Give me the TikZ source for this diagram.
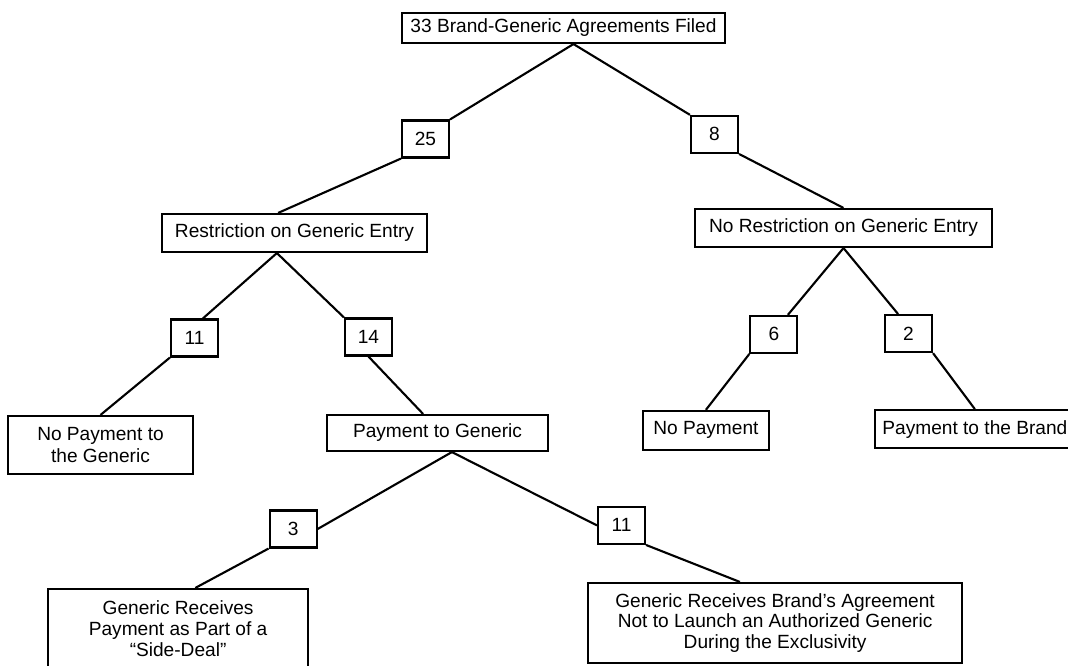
\documentclass[tikz,border=0pt]{standalone}
\usepackage{fontspec}
\setmainfont{Liberation Sans}
\usepackage{tikz}
\usetikzlibrary{positioning}

\begin{document}
\begin{tikzpicture}[-,node distance=2.5cm,line width=1.5pt,
			font=\fontsize{13.6}{15}\selectfont]
			\tikzstyle{box}=[draw=black,fill=white,text=black,align=center,inner sep=2pt]
			\tikzstyle{cnt}=[box,minimum width=1.175cm,minimum height=0.925cm]
			
			\useasboundingbox (-14.0875,0.7) rectangle (12.6125,-15.925);
			
			\node[box, minimum width=8.075cm, minimum height=0.75cm]    (top)    {33 Brand-Generic Agreements Filed};
			
			\node[cnt]    (n25)[below of = top, xshift=-3.45cm, yshift=-0.275cm]		{25};
			
			\node[cnt]    (n8)[below of = top, xshift=3.775cm, yshift=-0.16cm]		{8};
			
			\node[box, minimum width=6.625cm, minimum height=0.95cm]    (restr)[below of = n25, xshift=-3.275cm, yshift=0.15cm]		{Restriction on Generic Entry};
			
			\node[box, minimum width=7.425cm, minimum height=0.95cm]    (norestr)[below of = n8, xshift=3.225cm, yshift=0.16cm]		{No Restriction on Generic Entry};
			
			\node[cnt]    (n11a)[below of = restr, xshift=-2.5cm, yshift=-0.125cm]		{11};
			
			\node[cnt]    (n14)[below of = restr, xshift=1.85cm, yshift=-0.1cm]		{14};
			
			\node[cnt]    (n6)[below of = norestr, xshift=-1.74cm, yshift=-0.16cm]		{6};
			
			\node[cnt]    (n2)[below of = norestr, xshift=1.625cm, yshift=-0.14cm]		{2};
			
			\node[box, minimum width=4.625cm, minimum height=1.45cm]    (nopaygen)[below of = n11a, xshift=-2.35cm, yshift=-0.175cm]		{No Payment to\\the Generic};
			
			\node[box, minimum width=5.525cm, minimum height=0.9cm]    (paygen)[below of = n14, xshift=1.725cm, yshift=0.1cm]		{Payment to Generic};
			
			\node[box, minimum width=3.15cm, minimum height=0.975cm]    (nopay)[below of = n6, xshift=-1.7cm, yshift=0.1cm]		{No Payment};
			
			\node[box, minimum width=5cm, minimum height=0.95cm]    (paybrand)[below of = n2, xshift=1.66cm, yshift=0.11cm]		{Payment to the Brand};
			
			\node[cnt]    (n3)[below of = paygen, xshift=-3.61cm, yshift=0.1cm]		{3};
			
			\node[cnt]    (n11b)[below of = paygen, xshift=4.6cm, yshift=0.19cm]		{11};
			
			\node[box, minimum width=6.5cm, minimum height=2cm]    (sidedeal)[below of = n3, xshift=-2.875cm]		{Generic Receives\\Payment as Part of a\\“Side-Deal”};
			
			\node[box, minimum width=9.35cm, minimum height=2cm, font=\fontsize{13.6}{14.5}\selectfont]    (authgen)[below of = n11b, xshift=3.84cm, yshift=0.06cm]		{Generic Receives Brand’s Agreement\\Not to Launch an Authorized Generic\\During the Exclusivity};
			
			\path
			
			([xshift=2.5mm]top.south) edge (n25.north east)
			
			([xshift=2.5mm]top.south) edge (n8.north west)
			
			(n25.south west) edge ([xshift=-4.1mm]restr.north)
			
			(n8.south east) edge (norestr.north)
			
			([xshift=-4.4mm]restr.south) edge ([xshift=2.1mm]n11a.north)
			
			([xshift=-4.4mm]restr.south) edge (n14.north west)
			
			(n11a.south west) edge (nopaygen.north)
			
			(n14.south) edge ([xshift=-3.6mm]paygen.north)
			
			(norestr.south) edge ([xshift=3.5mm]n6.north)
			
			(norestr.south) edge ([xshift=-2.6mm]n2.north)
			
			(n6.south west) edge (nopay.north)
			
			(n2.south east) edge (paybrand.north)
			
			([xshift=3.6mm]paygen.south) edge (n3.east)
			
			([xshift=3.6mm]paygen.south) edge (n11b.west)
			
			(n3.south west) edge ([xshift=4.3mm]sidedeal.north)
			
			(n11b.south east) edge ([xshift=-8.8mm]authgen.north);
			
\end{tikzpicture}
\end{document}
